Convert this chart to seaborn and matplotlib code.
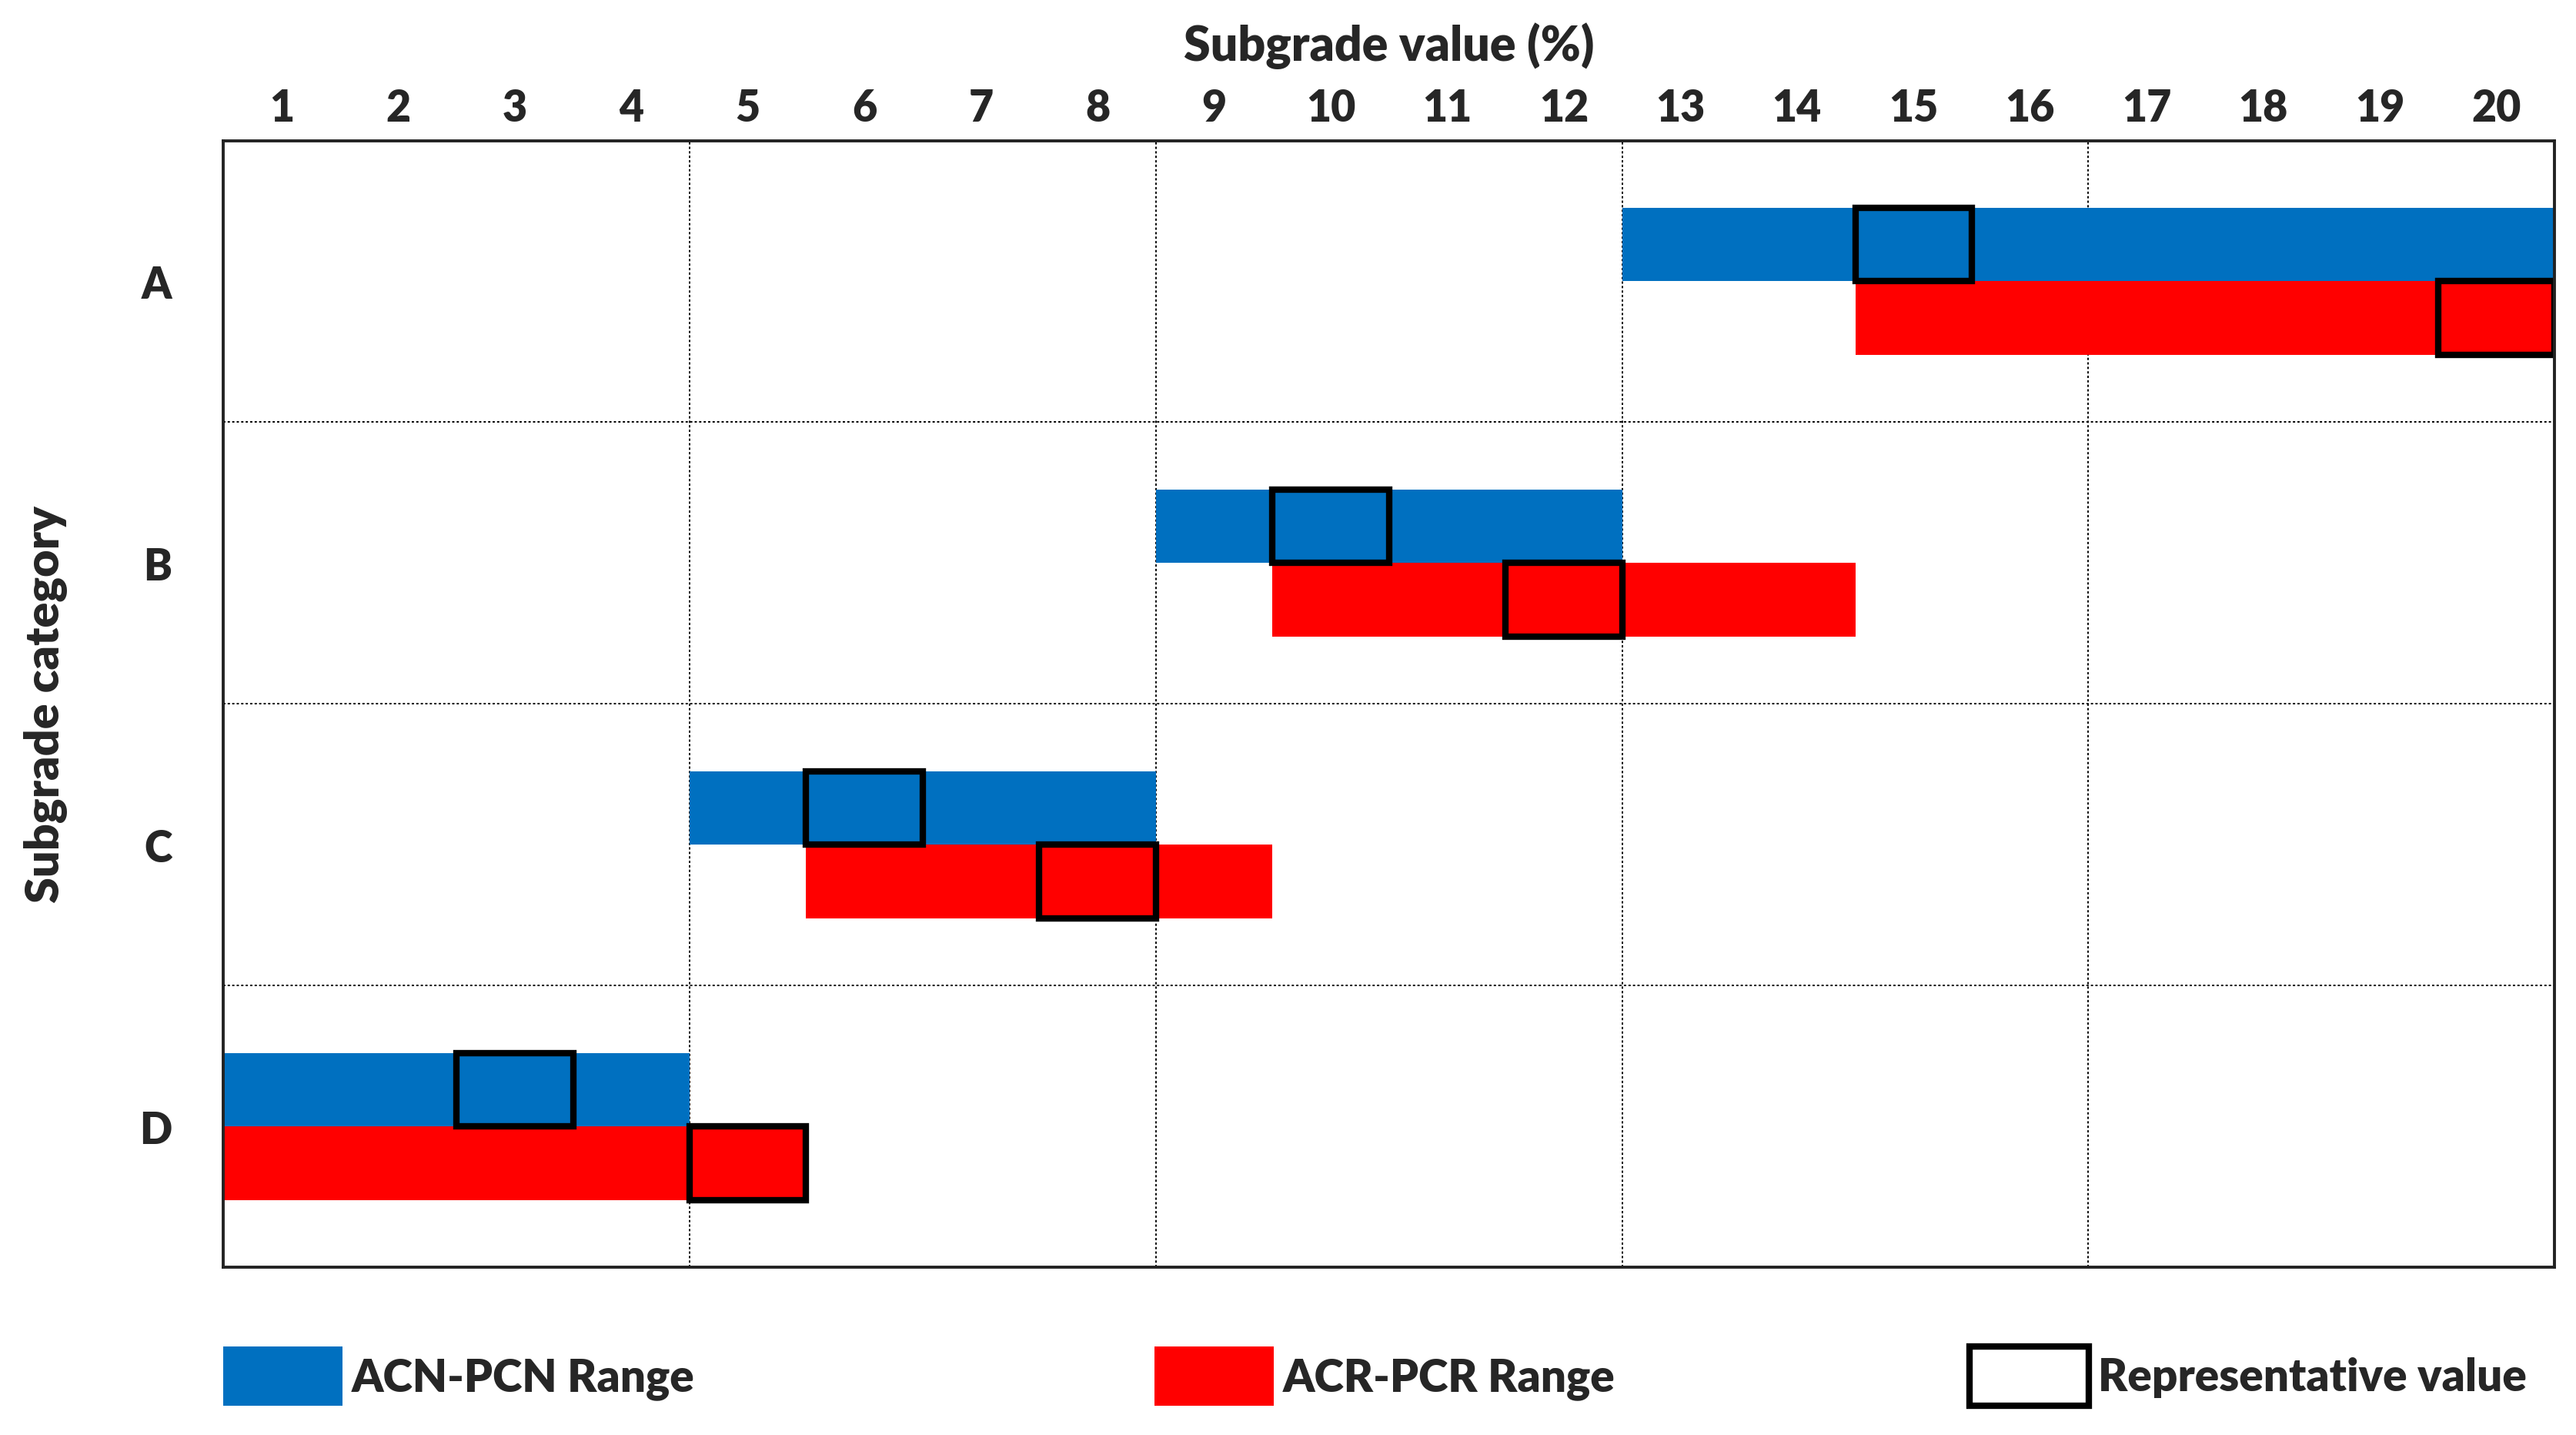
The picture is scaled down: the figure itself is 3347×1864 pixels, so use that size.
import matplotlib
matplotlib.use("Agg")
import matplotlib.pyplot as plt
import seaborn as sns
import numpy as np
import pandas as pd
from matplotlib.patches import Patch

# ---- data ----
categories = ["A", "B", "C", "D"]
acn_min = [13, 9, 5, 1]
acn_max = [20, 12, 8, 4]
acn_rep = [15, 10, 6, 3]
acr_min = [15, 10, 6, 1]
acr_max = [20, 14, 9, 5]
acr_rep = [20, 12, 8, 5]
x_ticks = list(range(1, 21))
legend_labels = ["ACN-PCN Range", "ACR-PCR Range", "Representative value"]

BLUE = "#0070C0"
RED = "#FF0000"
W = 'heavy'

df = pd.DataFrame({
    "category": categories,
    "acn_min": acn_min, "acn_max": acn_max, "acn_rep": acn_rep,
    "acr_min": acr_min, "acr_max": acr_max, "acr_rep": acr_rep,
})

sns.set_theme(style="white")
plt.rcParams['font.family'] = ['Lato', 'DejaVu Sans']
plt.rcParams['font.weight'] = W

fig = plt.figure(figsize=(33.47, 18.65), dpi=100)
ax = fig.add_axes([0.0867, 0.1167, 0.9050, 0.7849])

y = np.arange(len(categories))
h = 0.26

ax.barh(y - h / 2, df["acn_max"] - df["acn_min"] + 1, left=df["acn_min"] - 0.5,
        height=h, color=BLUE, linewidth=0, zorder=2)
ax.barh(y + h / 2, df["acr_max"] - df["acr_min"] + 1, left=df["acr_min"] - 0.5,
        height=h, color=RED, linewidth=0, zorder=2)
ax.barh(y - h / 2, np.ones(len(y)), left=df["acn_rep"] - 0.5, height=h,
        fill=False, edgecolor="black", linewidth=6, zorder=3)
ax.barh(y + h / 2, np.ones(len(y)), left=df["acr_rep"] - 0.5, height=h,
        fill=False, edgecolor="black", linewidth=6, zorder=3)

ax.set_xlim(0.5, 20.5)
ax.set_ylim(len(categories) - 0.5, -0.5)

ax.xaxis.tick_top()
ax.xaxis.set_label_position('top')
ax.set_xticks(x_ticks)
ax.set_xticklabels([str(t) for t in x_ticks], fontsize=40, fontweight=W)
ax.set_yticks(y)
ax.set_yticklabels(categories, fontsize=40, fontweight=W)
ax.set_xticks([4.5, 8.5, 12.5, 16.5], minor=True)
ax.set_yticks([0.5, 1.5, 2.5], minor=True)
ax.grid(False)
ax.grid(which='minor', linestyle=(0, (1.5, 1.5)), color='black', linewidth=1.4, zorder=1)
ax.set_axisbelow(True)
ax.tick_params(axis='both', which='both', length=0)
ax.tick_params(axis='x', pad=12)
ax.tick_params(axis='y', pad=48)

ax.set_xlabel("Subgrade value (%)", fontsize=45, fontweight=W, labelpad=26)
ax.set_ylabel("Subgrade category", fontsize=44, fontweight=W, labelpad=68)

for s in ax.spines.values():
    s.set_color('#222222')
    s.set_linewidth(2.8)
    s.set_zorder(4)

handles = [
    Patch(facecolor=BLUE, edgecolor='none'),
    Patch(facecolor=RED, edgecolor='none'),
    Patch(facecolor='white', edgecolor='black', linewidth=6),
]
xs = [0.0867, 0.4483, 0.7647]
for hnd, lab, xx in zip(handles, legend_labels, xs):
    fig.legend([hnd], [lab], loc='center left', bbox_to_anchor=(xx, 0.0412),
               frameon=False, handlelength=2.65, handleheight=1.65,
               handletextpad=0.2, borderpad=0, borderaxespad=0,
               prop={'weight': W, 'size': 42})

fig.savefig("out.png", dpi=100)
